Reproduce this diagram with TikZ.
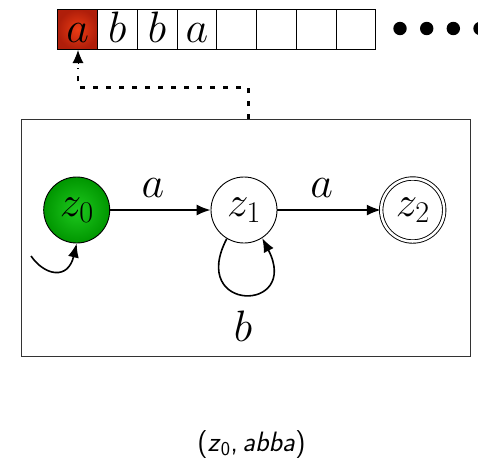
\RequirePackage{fix-cm}
\documentclass[tikz,border=0pt]{standalone}
\usetikzlibrary{arrows.meta}
\begin{document}
\begin{tikzpicture}[x=1pt,y=-1pt,
  cellbox/.style={draw=black, line width=0.9pt, minimum width=39.75pt, minimum height=40pt, inner sep=0pt, anchor=north west, text height=31pt, text depth=5.6pt, font=\fontsize{44}{46}\selectfont},
  state/.style={circle, draw=black, line width=0.9pt, minimum size=66pt, inner sep=0pt, font=\fontsize{43}{46}\selectfont},
  accepting/.style={double=white, double distance=2.5pt, line width=0.9pt, minimum size=63pt},
  edge/.style={line width=1.6pt, -{Latex[length=14pt,width=11pt]}},
  elabel/.style={font=\fontsize{44}{46}\selectfont, inner sep=0pt},
  headline/.style={line width=2.6pt, dash pattern=on 5pt off 8pt},
  headtip/.style={line width=1pt, -{Latex[length=13pt,width=11pt]}}
]
\clip (0,0) rectangle (478,467);
\useasboundingbox (0,0) rectangle (478,467);
% tape
\node[cellbox, inner color={rgb,255:red,235;green,60;blue,20}, outer color={rgb,255:red,175;green,30;blue,10}] (c1) at (57.3,9) {$a$};
\node[cellbox] (c2) at (97.05,9) {$b$};
\node[cellbox] (c3) at (136.8,9) {$b$};
\node[cellbox] (c4) at (176.55,9) {$a$};
\node[cellbox] (c5) at (216.3,9) {};
\node[cellbox] (c6) at (256.05,9) {};
\node[cellbox] (c7) at (295.8,9) {};
\node[cellbox] (c8) at (335.55,9) {};
\foreach \i/\x in {1/400,2/426.7,3/453.3,4/480}{
  \fill (\x,28.5) circle (6.7pt);
}
% box
\node[draw=black!80, line width=1.4pt, minimum width=449pt, minimum height=237pt, anchor=north west, inner sep=0pt] (box) at (20.7,119) {};
% head pointer
\coordinate (h1) at (248.3,119);
\coordinate (h2) at (248.3,87.3);
\coordinate (h3) at (78,87.3);
\coordinate (h4) at (78,68);
\coordinate (h5) at (78,63);
\coordinate (h6) at (78,50);
\draw[headline] (h1) -- (h2) -- (h3) -- (h4);
\draw[headtip] (h5) -- (h6);
% states
\node[state, draw=black, inner color={rgb,255:red,30;green,200;blue,30}, outer color={rgb,255:red,0;green,150;blue,0}] (z0) at (76.7,210) {$z_0$};
\node[state] (z1) at (244,210) {$z_1$};
\node[state, accepting] (z2) at (412.7,210) {$z_2$};
% edges
\draw[edge] (z0) -- (z1);
\draw[edge] (z1) -- (z2);
\node[elabel] (la1) at (153,188) {$a$};
\node[elabel] (la2) at (321.7,188) {$a$};
\coordinate (init) at (31,256);
\draw[edge] (init) .. controls (45,276) and (68,280) .. (z0.south);
\draw[edge] (z1.-121) .. controls (188,313) and (301,313) .. (z1.-57);
\node[elabel] (lb) at (243,326) {$b$};
% configuration
\node[font=\fontsize{28}{30}\selectfont\sffamily, inner sep=0pt] (conf) at (251.5,444) {(\textsl{z}\textsubscript{0},\,\textsl{abba})};
\end{tikzpicture}
\end{document}
